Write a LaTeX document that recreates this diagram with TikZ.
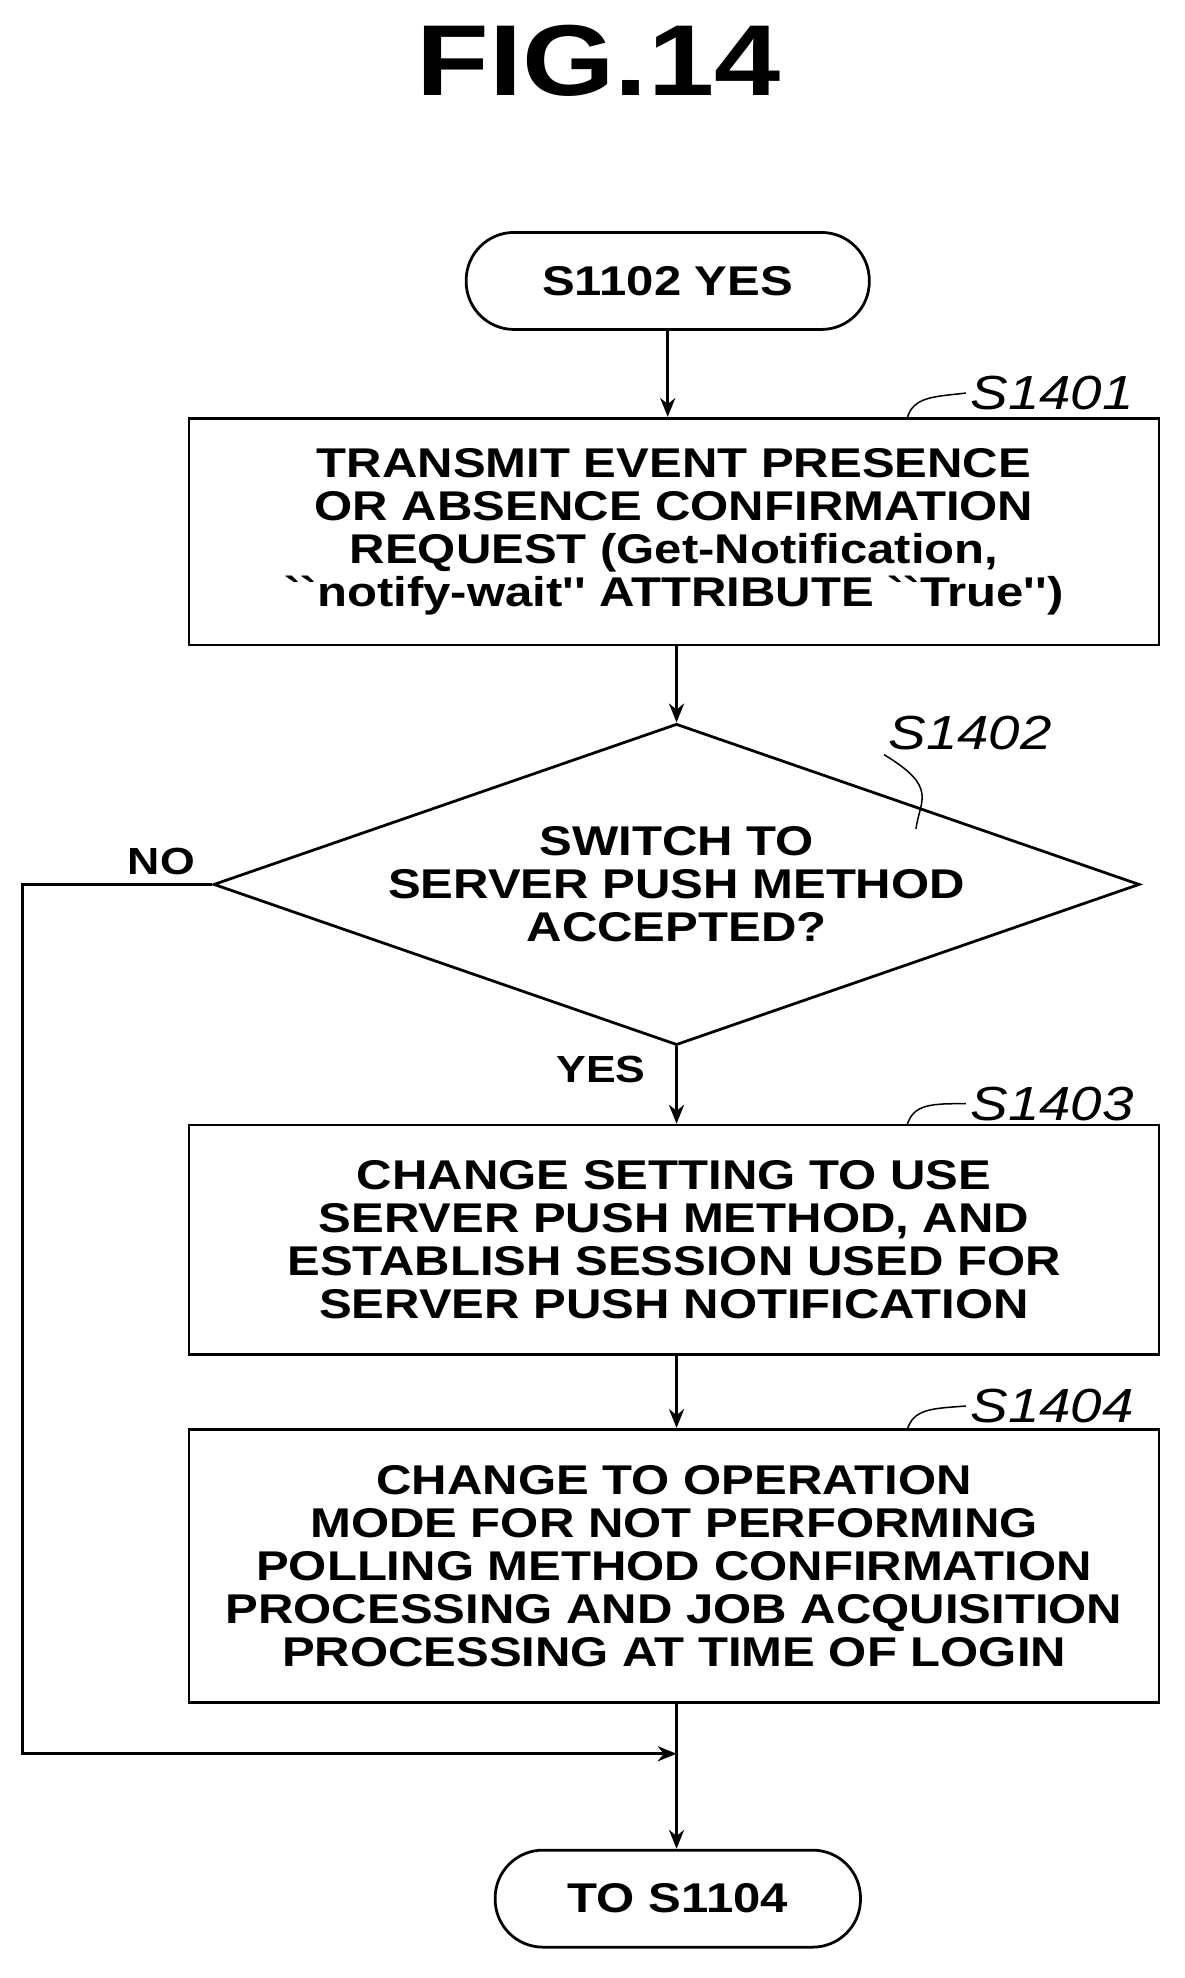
\documentclass[tikz,border=0pt]{standalone}
\usepackage{fontspec}
\setmainfont{Liberation Sans}
\newfontfamily\widefont[FakeStretch=1.18]{Liberation Sans}
\usetikzlibrary{positioning, shapes.geometric, arrows.meta}

\tikzset{
  box/.style={draw, line width=2.2pt, minimum width=770pt, align=center,
    font=\widefont\fontsize{33}{34}\selectfont\bfseries},
  term/.style={draw, line width=2.2pt, rounded corners=38pt, minimum height=77pt,
    align=center, font=\widefont\fontsize{33}{34}\selectfont\bfseries},
  steplabel/.style={font=\widefont\fontsize{38}{40}\selectfont\itshape},
  lab/.style={font=\widefont\fontsize{30}{32}\selectfont\bfseries},
  arr/.style={line width=2.2pt, -{Stealth[length=15pt,width=12pt]}},
}

\begin{document}
\begin{tikzpicture}[x=1pt, y=-1pt]
  \useasboundingbox (0,0) rectangle (940,1570);
  \node [font=\widefont\fontsize{80}{80}\selectfont\bfseries] (title) at (475,48) {FIG.14};

  \node [term, minimum width=320pt] (start) at (530,223) {S1102 YES};
  \node [box, minimum height=180pt] (s1401) at (535,422) {TRANSMIT EVENT PRESENCE\\OR ABSENCE CONFIRMATION\\REQUEST (Get-Notification,\\``notify-wait'' ATTRIBUTE ``True'')};
  \node [draw, line width=2.2pt, diamond, aspect=2.9, minimum width=735pt, minimum height=255pt,
    inner sep=0pt, align=center, font=\widefont\fontsize{33}{34}\selectfont\bfseries] (s1402) at (537,702)
    {SWITCH TO\\SERVER PUSH METHOD\\ACCEPTED?};
  \node [box, minimum height=182pt] (s1403) at (535,984) {CHANGE SETTING TO USE\\SERVER PUSH METHOD, AND\\ESTABLISH SESSION USED FOR\\SERVER PUSH NOTIFICATION};
  \node [box, minimum height=217pt] (s1404) at (535,1243) {CHANGE TO OPERATION\\MODE FOR NOT PERFORMING\\POLLING METHOD CONFIRMATION\\PROCESSING AND JOB ACQUISITION\\PROCESSING AT TIME OF LOGIN};
  \node [term, minimum width=290pt] (end) at (538,1507) {TO S1104};

  % step labels
  \node [steplabel] (l1401) at (835,312) {S1401};
  \node [steplabel] (l1402) at (770,582) {S1402};
  \node [steplabel] (l1403) at (835,876) {S1403};
  \node [steplabel] (l1404) at (835,1116) {S1404};
  \draw [line width=1.2pt] (720,332) .. controls (725,315) and (740,315) .. (l1401.west);
  \draw [line width=1.2pt] (727,658) .. controls (730,635) and (745,625) .. (l1402.south west);
  \draw [line width=1.2pt] (720,893) .. controls (725,876) and (740,876) .. (l1403.west);
  \draw [line width=1.2pt] (720,1135) .. controls (725,1118) and (740,1118) .. (l1404.west);

  \node [lab] (no) at (128,684) {NO};
  \node [lab] (yes) at (477,849) {YES};

  \coordinate (merge) at (537,1392);
  \coordinate (corner1) at (18,702);
  \coordinate (corner2) at (18,1392);

  \draw [arr] (start) -- (s1401.north -| start);
  \draw [arr] (s1401.south -| s1402) -- (s1402.north);
  \draw [arr] (s1402.south) -- (s1403.north -| s1402);
  \draw [arr] (s1403.south -| s1402) -- (s1404.north -| s1402);
  \draw [line width=2.2pt] (s1404.south -| s1402) -- (merge);
  \draw [arr] (s1402.west) -- (corner1) -- (corner2) -- (merge);
  \draw [arr] (merge) -- (end.north -| merge);
\end{tikzpicture}
\end{document}
